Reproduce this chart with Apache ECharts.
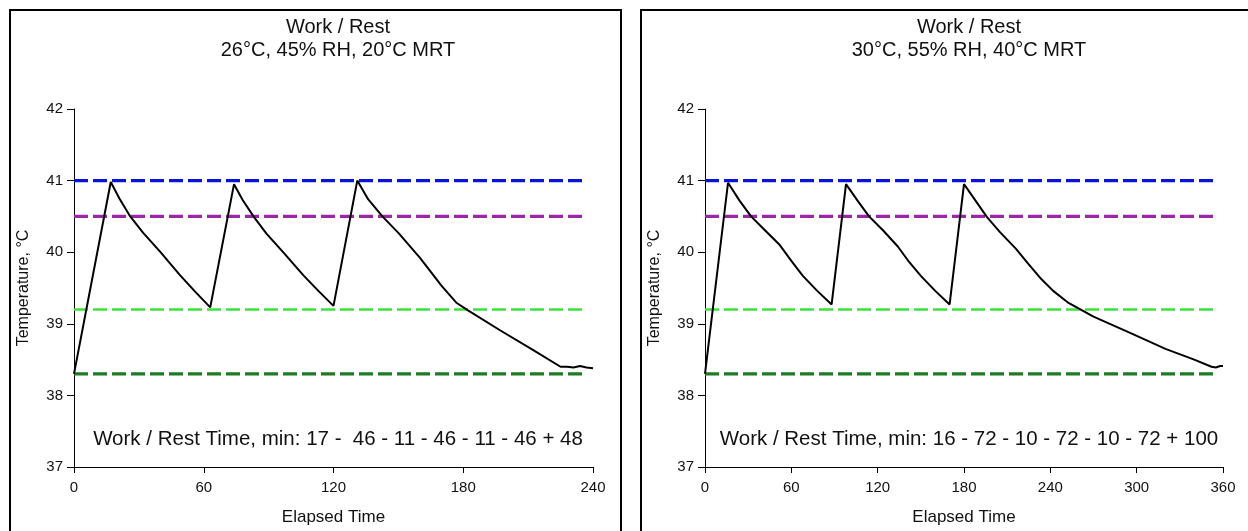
<!DOCTYPE html>
<html>
<head>
<meta charset="utf-8">
<script src="https://cdn.jsdelivr.net/npm/echarts@6/dist/echarts.min.js"></script>
<style>
html,body{margin:0;padding:0;background:#fff;}
#chart{width:1248px;height:531px;}
</style>
</head>
<body>
<div id="chart"></div>
<script>
// ---- data ----
const leftTitle = "Work / Rest\n26°C, 45% RH, 20°C MRT";
const rightTitle = "Work / Rest\n30°C, 55% RH, 40°C MRT";
const leftNote = "Work / Rest Time, min: 17 -  46 - 11 - 46 - 11 - 46 + 48";
const rightNote = "Work / Rest Time, min: 16 - 72 - 10 - 72 - 10 - 72 + 100";
const xAxisName = "Elapsed Time";
const yAxisName = "Temperature, °C";

const leftTime = [0, 17, 21, 26, 32, 40, 49, 56, 63, 74, 78, 83, 89, 97, 106, 113, 120, 131, 136, 142.6, 150, 160, 170, 177, 182, 197, 212, 225, 228, 231, 234, 237, 240];
const leftTemp = [38.3, 40.98, 40.75, 40.5, 40.27, 40.0, 39.68, 39.45, 39.23, 40.95, 40.73, 40.5, 40.26, 39.99, 39.68, 39.46, 39.25, 41.0, 40.74, 40.5, 40.27, 39.92, 39.53, 39.29, 39.19, 38.91, 38.64, 38.4, 38.4, 38.39, 38.41, 38.39, 38.38];

const rightTime = [0, 16, 24, 32, 42, 52, 60, 68, 78, 88, 98, 106, 114, 124, 134, 142, 150, 160, 170, 180, 188, 196, 205, 216, 225, 233, 242, 252, 270, 297, 320, 340, 352, 355, 358, 360];
const rightTemp = [38.3, 40.97, 40.72, 40.5, 40.3, 40.1, 39.88, 39.67, 39.46, 39.27, 40.95, 40.72, 40.5, 40.3, 40.08, 39.86, 39.67, 39.46, 39.27, 40.95, 40.72, 40.49, 40.28, 40.05, 39.83, 39.64, 39.46, 39.3, 39.1, 38.86, 38.65, 38.5, 38.4, 38.39, 38.41, 38.41];

const thresholds = [41.0, 40.5, 39.2, 38.3];
const thresholdColors = ['#0a14d8', '#9b27a6', '#3de23d', '#1e7a24'];
const leftXMax = 240, rightXMax = 360;
const leftRefEnd = 237, rightRefEnd = 356;
const yMin = 37, yMax = 42;

// ---- chart ----
const FONT = 'Liberation Sans, Arial, sans-serif';
const chart = echarts.init(document.getElementById('chart'), null, {renderer: 'canvas'});

function axisPair(idx, xMax) {
  return {
    x: {
      type: 'value', gridIndex: idx, min: 0, max: xMax, interval: 60,
      name: xAxisName, nameLocation: 'middle', nameGap: 42,
      nameTextStyle: {fontFamily: FONT, fontSize: 17, color: '#111'},
      axisLine: {show: true, onZero: false, lineStyle: {color: '#000', width: 1}},
      axisTick: {show: true, length: 6, lineStyle: {color: '#000'}},
      axisLabel: {fontFamily: FONT, fontSize: 15, color: '#111', margin: 13},
      splitLine: {show: false}
    },
    y: {
      type: 'value', gridIndex: idx, min: yMin, max: yMax, interval: 1,
      name: yAxisName, nameLocation: 'middle', nameGap: 42, nameRotate: 90,
      nameTextStyle: {fontFamily: FONT, fontSize: 16, color: '#111'},
      axisLine: {show: true, lineStyle: {color: '#000', width: 1}},
      axisTick: {show: true, length: 7, lineStyle: {color: '#000'}},
      axisLabel: {fontFamily: FONT, fontSize: 15, color: '#111', margin: 11},
      splitLine: {show: false}
    }
  };
}
const a0 = axisPair(0, leftXMax), a1 = axisPair(1, rightXMax);

function refSeries(idx, end) {
  return thresholds.map((v, i) => ({
    type: 'line', xAxisIndex: idx, yAxisIndex: idx,
    data: [[0, v], [end, v]],
    symbol: 'none', silent: true,
    lineStyle: {color: thresholdColors[i], width: i === 2 ? 2.6 : 3.2, type: [14, 5]},
    z: 2
  }));
}
function curve(idx, ts, vs) {
  return {
    type: 'line', xAxisIndex: idx, yAxisIndex: idx,
    data: ts.map((t, i) => [t, vs[i]]),
    symbol: 'none', silent: true,
    lineStyle: {color: '#000', width: 2},
    z: 5
  };
}

const titleStyle = {fontFamily: FONT, fontSize: 20, fontWeight: 'normal', color: '#111', lineHeight: 23};
const noteStyle = {fontFamily: FONT, fontSize: 20.5, fontWeight: 'normal', color: '#111'};
const option = {
  animation: false,
  backgroundColor: '#fff',
  title: [
    {text: leftTitle, left: 333, top: 11, textAlign: 'center', textStyle: titleStyle},
    {text: rightTitle, left: 964, top: 11, textAlign: 'center', textStyle: titleStyle},
    {text: leftNote, left: 333, top: 424, textAlign: 'center', textStyle: noteStyle},
    {text: rightNote, left: 964, top: 424, textAlign: 'center', textStyle: noteStyle}
  ],
  grid: [
    {left: 74, top: 109, width: 519, height: 363},
    {left: 705, top: 109, width: 518, height: 363}
  ],
  xAxis: [a0.x, a1.x],
  yAxis: [a0.y, a1.y],
  graphic: [
    {type: 'rect', shape: {x: 10, y: 10, width: 611, height: 540}, style: {fill: null, stroke: '#000', lineWidth: 2}, silent: true},
    {type: 'rect', shape: {x: 641, y: 10, width: 611, height: 540}, style: {fill: null, stroke: '#000', lineWidth: 2}, silent: true}
  ],
  series: [
    ...refSeries(0, leftRefEnd),
    ...refSeries(1, rightRefEnd),
    curve(0, leftTime, leftTemp),
    curve(1, rightTime, rightTemp)
  ]
};
chart.setOption(option);
</script>
</body>
</html>
